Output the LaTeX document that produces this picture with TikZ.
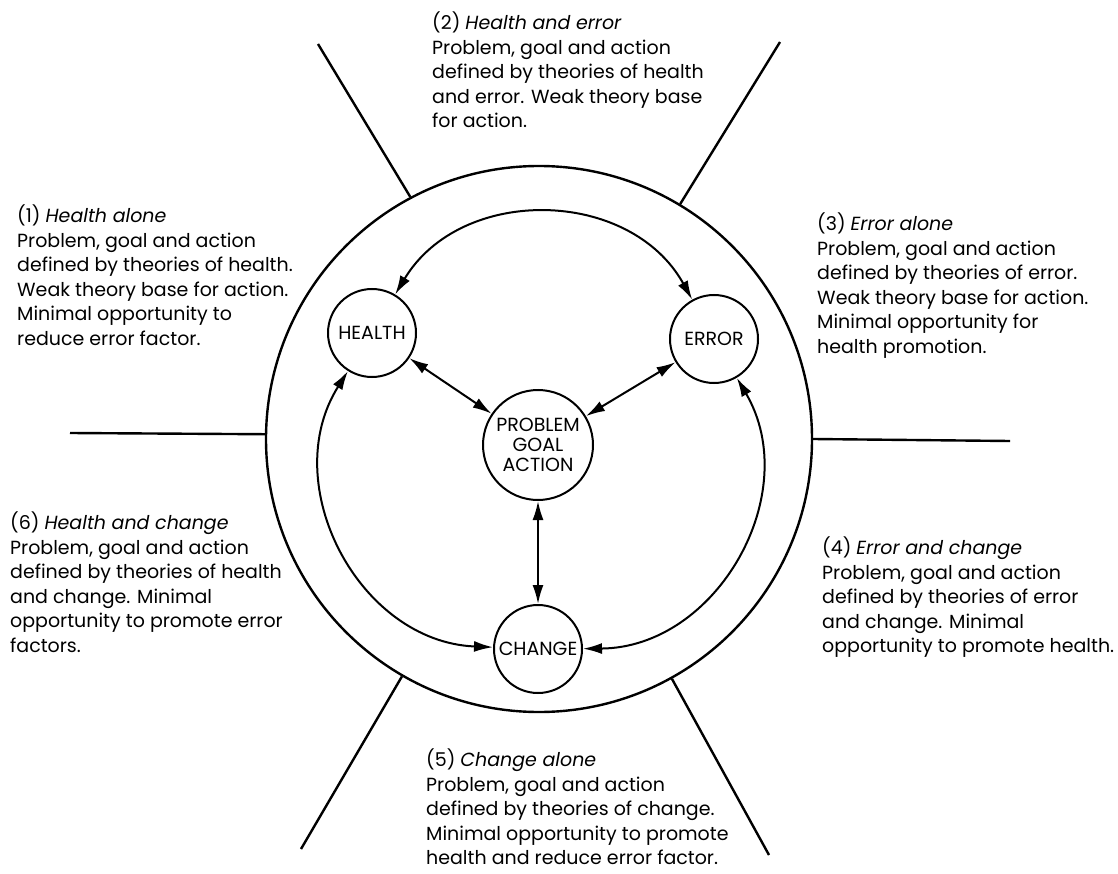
\documentclass[tikz,border=0pt]{standalone}
\usepackage{fontspec}
\setmainfont{Poppins}
\usetikzlibrary{positioning,arrows.meta}

\tikzset{
  concept/.style={circle, draw, line width=2pt, inner sep=0pt, minimum size=88pt,
    font=\fontsize{19}{20}\selectfont},
  link/.style={>={Latex[length=19pt,width=11pt]}, <->, line width=2pt},
  spoke/.style={line width=2.4pt},
  note/.style={anchor=north west, align=left, inner sep=0pt,
    font=\fontsize{19}{24.5}\selectfont},
}

\begin{document}
\begin{tikzpicture}[x=1pt,y=-1pt]
  \useasboundingbox (0,0) rectangle (1118,874);

  % outer ring and the six spokes
  \node[circle, draw, line width=2.4pt, inner sep=0pt, minimum size=546pt] (rim) at (539,439) {};
  \coordinate (s1) at (318,44);
  \coordinate (s2) at (780,42);
  \coordinate (s3) at (70,433);
  \coordinate (s4) at (1010,441);
  \coordinate (s5) at (301,849);
  \coordinate (s6) at (769,855);
  \draw[spoke] (rim.118) -- (s1);
  \draw[spoke] (rim.59) -- (s2);
  \draw[spoke] (rim.179) -- (s3);
  \draw[spoke] (rim.0) -- (s4);
  \draw[spoke] (rim.240) -- (s5);
  \draw[spoke] (rim.299) -- (s6);

  % the four concepts
  \node[concept, minimum size=110pt, align=center] (pga) at (538,445) {PROBLEM\\GOAL\\ACTION};
  \node[concept, on grid] (health) [above left=112pt and 166pt of pga] {HEALTH};
  \node[concept, on grid] (error) [above right=106pt and 176pt of pga] {ERROR};
  \node[concept, on grid] (change) [below=204pt of pga] {CHANGE};

  \draw[link] (health) to[bend left=60, looseness=1.1] (error);
  \draw[link] (health) to[bend right=60, looseness=1.1] (change);
  \draw[link] (error) to[bend left=60, looseness=1.1] (change);
  \draw[link] (health) -- (pga);
  \draw[link] (error) -- (pga);
  \draw[link] (pga) -- (change);

  % the six fields
  \node[note] (f1) at (17,205) {(1) \textit{Health alone}\\Problem, goal and action\\defined by theories of health.\\Weak theory base for action.\\Minimal opportunity to\\reduce error factor.};
  \node[note] (f2) at (432,12) {(2) \textit{Health and error}\\Problem, goal and action\\defined by theories of health\\and error. Weak theory base\\for action.};
  \node[note] (f3) at (817,213) {(3) \textit{Error alone}\\Problem, goal and action\\defined by theories of error.\\Weak theory base for action.\\Minimal opportunity for\\health promotion.};
  \node[note] (f4) at (822,537) {(4) \textit{Error and change}\\Problem, goal and action\\defined by theories of error\\and change. Minimal\\opportunity to promote health.};
  \node[note] (f5) at (426,749) {(5) \textit{Change alone}\\Problem, goal and action\\defined by theories of change.\\Minimal opportunity to promote\\health and reduce error factor.};
  \node[note] (f6) at (10,512) {(6) \textit{Health and change}\\Problem, goal and action\\defined by theories of health\\and change. Minimal\\opportunity to promote error\\factors.};
\end{tikzpicture}
\end{document}
